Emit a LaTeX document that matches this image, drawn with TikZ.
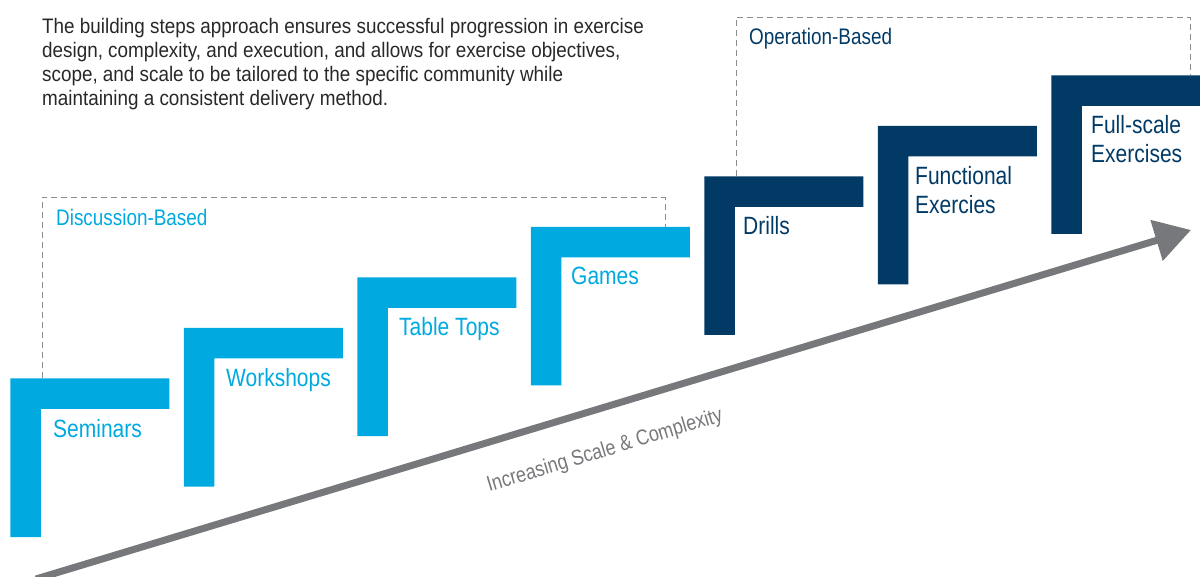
\documentclass[tikz,border=0pt]{standalone}
\usepackage{fontspec}
\setmainfont{Liberation Sans}[FakeStretch=0.84]
\newfontfamily\introfont{Liberation Sans}[FakeStretch=0.898]
\usetikzlibrary{arrows.meta}
\definecolor{lblue}{RGB}{0,169,224}
\definecolor{navy}{RGB}{2,58,102}
\definecolor{arrowgray}{RGB}{119,120,123}
\definecolor{dashgray}{RGB}{140,140,140}
\definecolor{bodytext}{RGB}{40,40,40}
\tikzset{
  dashbox/.style={draw=dashgray, line width=0.9pt, dash pattern=on 6pt off 4pt},
  lbl/.style={anchor=base west, inner sep=0pt, font=\fontsize{25}{29.3}\selectfont, align=left},
  grouplbl/.style={anchor=base west, inner sep=0pt, font=\fontsize{22.5}{26}\selectfont},
  growarrow/.style={draw=arrowgray, line width=7pt, -{Triangle[length=36pt,width=41pt]}},
}
\begin{document}
\begin{tikzpicture}[x=1pt,y=-1pt]
\useasboundingbox (0,0) rectangle (1200,577);

% intro paragraph (base anchor = last line)
\node[anchor=base west, inner sep=0pt, align=left, text=bodytext,
      font=\introfont\fontsize{21}{24.3}\selectfont] (intro) at (42,106)
  {The building steps approach ensures successful progression in exercise\\
   design, complexity, and execution, and allows for exercise objectives,\\
   scope, and scale to be tailored to the specific community while\\
   maintaining a consistent delivery method.};

% dashed group frames
\draw[dashbox] (42.3,378.3) -- (42.3,197.3) -- (665,197.3) -- (665,226.8);
\draw[dashbox] (736,176.3) -- (736,17) -- (1190,17) -- (1190,75.3);
\node[grouplbl, text=lblue] (discussion) at (56,226) {Discussion-Based};
\node[grouplbl, text=navy] (operation) at (749,45) {Operation-Based};

% steps
\foreach \x/\y/\c in {10.3/378.3/lblue, 183.8/327.8/lblue, 357.3/277.3/lblue, 530.8/226.8/lblue,
                      704.3/176.3/navy, 877.8/125.8/navy, 1051.3/75.3/navy}{
  \fill[\c] (\x,\y) -- ++(159,0) -- ++(0,30.5) -- ++(-128.5,0) -- ++(0,128.2) -- ++(-30.5,0) -- cycle;
}
\node[lbl, text=lblue] (seminars) at (53,437) {Seminars};
\node[lbl, text=lblue] (workshops) at (226,386) {Workshops};
\node[lbl, text=lblue] (tabletops) at (399,336) {Table Tops};
\node[lbl, text=lblue] (games) at (571,285) {Games};
\node[lbl, text=navy] (drills) at (743,235) {Drills};
\node[lbl, text=navy] (functional) at (915,213.5) {Functional\\Exercies};
\node[lbl, text=navy] (fullscale) at (1091,162.7) {Full-scale\\Exercises};

% arrow
\coordinate (arrowstart) at (36,579);
\coordinate (arrowend) at (1191,230);
\draw[growarrow] (arrowstart) -- (arrowend);
\node[text=arrowgray, rotate=16.8, inner sep=0pt, font=\fontsize{21.5}{25}\selectfont] (scalelbl) at (605,451)
  {Increasing Scale \& Complexity};
\end{tikzpicture}
\end{document}
